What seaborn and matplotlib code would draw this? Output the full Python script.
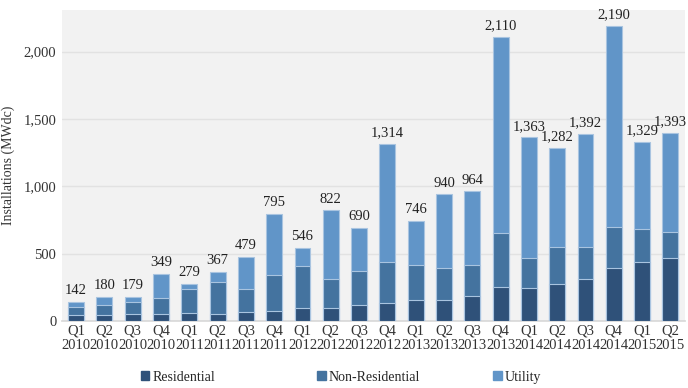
import pandas as pd
import seaborn as sns
import matplotlib.pyplot as plt
import numpy as np

quarters = ['Q1', 'Q2', 'Q3', 'Q4'] * 5 + ['Q1', 'Q2']
years = ['2010'] * 4 + ['2011'] * 4 + ['2012'] * 4 + ['2013'] * 4 + ['2014'] * 4 + ['2015'] * 2
totals = [142, 180, 179, 349, 279, 367, 479, 795, 546, 822, 690, 1314,
          746, 940, 964, 2110, 1363, 1282, 1392, 2190, 1329, 1393]
residential = [50, 50, 57, 57, 62, 57, 69, 79, 102, 99, 121, 139,
               161, 161, 188, 255, 243, 273, 317, 396, 436, 466]
non_residential = [56, 67, 87, 117, 174, 231, 171, 263, 305, 218, 253, 302,
                   253, 231, 231, 402, 228, 279, 233, 301, 246, 193]
utility = [t - r - n for t, r, n in zip(totals, residential, non_residential)]
series_names = ['Residential', 'Non-Residential', 'Utility']

labels = [q + '\n' + y for q, y in zip(quarters, years)]
df = pd.DataFrame({'period': labels, 'res': residential,
                   'nonres': non_residential, 'util': utility})
df['lvl2'] = df['res'] + df['nonres']
df['lvl3'] = df['lvl2'] + df['util']

sns.set_theme(style='white')
plt.rcParams['font.family'] = ['Liberation Serif', 'DejaVu Serif']

c_res = '#2F5179'
c_non = '#44739F'
c_util = '#6195C8'

fig, ax = plt.subplots(figsize=(6.88, 3.88), dpi=100)
fig.subplots_adjust(left=0.09, right=0.995, top=0.975, bottom=0.172)
ax.set_facecolor('#F2F2F2')

kw = dict(x='period', width=0.56, linewidth=0.8, edgecolor='#A9C4E0', ax=ax, zorder=3)
sns.barplot(data=df, y='lvl3', color=c_util, saturation=1, **kw)
sns.barplot(data=df, y='lvl2', color=c_non, saturation=1, **kw)
sns.barplot(data=df, y='res', color=c_res, saturation=1, **kw)

for i, t in enumerate(totals):
    ax.text(i, t + 35, f'{t:,}', ha='center', va='bottom', fontsize=10.5, color='#222222')

ax.set_ylim(0, 2310)
ax.set_xlim(-0.5, len(labels) - 0.5)
ax.set_yticks(np.arange(0, 2001, 500))
ax.set_yticklabels([f'{v:,}' for v in range(0, 2001, 500)], fontsize=10.5, color='#333333')
ax.tick_params(axis='x', labelsize=10.5, colors='#333333', length=0, pad=2)
ax.tick_params(axis='y', length=0, pad=4)
ax.set_xlabel('')
ax.set_ylabel('Installations (MWdc)', fontsize=10, color='#333333', labelpad=6)
ax.yaxis.grid(True, color='#E2E2E2', linewidth=1, zorder=0)
ax.set_axisbelow(True)
for s in ['top', 'right', 'left']:
    ax.spines[s].set_visible(False)
ax.spines['bottom'].set_color('#D9D9D9')

# equal-width legend slots like the original
for name, c, xpos in zip(series_names, [c_res, c_non, c_util], [0.205, 0.461, 0.717]):
    h = plt.Rectangle((0, 0), 1, 1, color=c)
    fig.legend([h], [name], loc='center left', bbox_to_anchor=(xpos, 0.028),
               frameon=False, fontsize=10, handlelength=0.6, handleheight=0.6,
               handletextpad=0.2, borderaxespad=0, borderpad=0)

fig.savefig('out.png', dpi=100)
